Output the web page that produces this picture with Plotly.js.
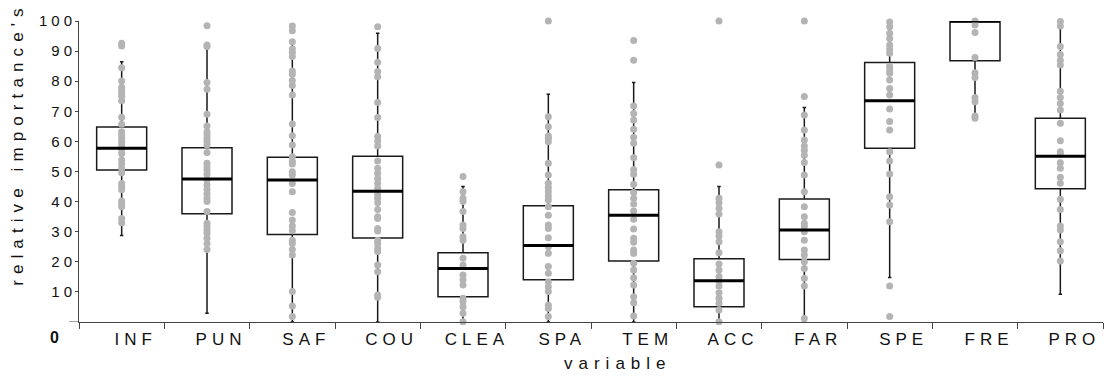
<!DOCTYPE html>
<html>
<head>
<meta charset="utf-8">
<script src="https://cdn.plot.ly/plotly-3.0.1.min.js"></script>
<style>
  html, body { margin: 0; padding: 0; background: #fff; }
  #chart { width: 1107px; height: 378px; }
  .xtick text { letter-spacing: 5px; }
  .ytick text { letter-spacing: 4px; }
  .annotation-text { letter-spacing: 6px; }
  .annotation[data-index="0"] .annotation-text { letter-spacing: 6.1px; }
</style>
</head>
<body>
<div id="chart"></div>
<script>
const categories = ['INF', 'PUN', 'SAF', 'COU', 'CLEA', 'SPA', 'TEM', 'ACC', 'FAR', 'SPE', 'FRE', 'PRO'];

const q1Values     = [50.5, 36.0, 29.1, 27.9,  8.4, 14.0, 20.3,  5.1, 20.8, 57.7,  86.8, 44.3];
const medianValues = [57.7, 47.5, 47.2, 43.4, 17.8, 25.4, 35.5, 13.7, 30.6, 73.5, 100.0, 55.1];
const q3Values     = [64.8, 57.9, 54.7, 55.1, 23.0, 38.6, 43.9, 21.0, 40.9, 86.2, 100.0, 67.7];
const lowerWhisker = [28.7,  2.9,  0.0,  0.0,  0.0,  0.0,  0.0,  0.0,  0.0, 14.8,  67.3,  9.2];
const upperWhisker = [86.5, 90.9, 93.0, 95.9, 45.0, 75.7, 79.6, 45.0, 71.3, 100.0, 100.0, 100.0];

const ptsINF  = [92.6, 91.7, 84.5, 80.1, 78, 77, 76, 75, 73.5, 68, 65.7, 63.2, 62.1, 61, 59.9, 58.8, 57.5, 56, 53.8, 52.5, 51, 49.6, 46, 45, 43.9, 40.2, 39.2, 38.3, 34.4, 33];
const ptsPUN  = [98.4, 92, 91.5, 79.6, 77.3, 69, 65.1, 63.2, 62.1, 61, 59.9, 58.8, 56.3, 52.7, 51.6, 50.5, 49.1, 47.2, 45.5, 43.9, 42.5, 41.1, 40, 36.7, 32.8, 31.7, 30.6, 29.5, 27.8, 26.1, 24.1];
const ptsSAF  = [98.3, 96.8, 93.1, 90.7, 89.5, 88.2, 83.4, 82.3, 80.2, 78.6, 75.4, 65.8, 61.9, 58.8, 54.9, 53.3, 52.5, 49.9, 48.8, 46, 43.3, 36.4, 33.9, 31.9, 30.3, 27.2, 26.1, 24.1, 22.3, 10.1, 5.3, 1.8];
const ptsCOU  = [98.1, 90.9, 86.3, 83.2, 81.5, 72.9, 67.9, 61.6, 60.1, 58.5, 53.5, 51.1, 49.4, 47.7, 46.1, 44.4, 42.2, 41.1, 39.6, 37.4, 35, 34.4, 31.1, 30.2, 27.2, 26.1, 24.5, 23.4, 18.9, 16.7, 9, 8.2];
const ptsCLEA = [48.3, 43.3, 41.1, 40, 36.7, 32.2, 31.1, 28.3, 27.2, 21.2, 18.9, 15.6, 14, 12.3, 7.9, 6.8, 5.1, 2.9, 0.1];
const ptsSPA  = [100, 68.2, 64.9, 61.8, 61, 59.9, 52.7, 48.8, 46.1, 44.7, 43.3, 41.9, 40.5, 38.3, 35.5, 32.2, 31.1, 28, 25, 22.8, 18.4, 16.2, 13.4, 11.7, 10.1, 5.6, 4.5, 1.8];
const ptsTEM  = [93.5, 87, 71.8, 69.3, 67.1, 64, 61.4, 59.4, 54.6, 50.7, 49.1, 45.8, 43, 41.1, 39.2, 36.9, 34.1, 30.9, 27.8, 26.5, 23.9, 22.8, 19.5, 17.3, 14.7, 12.3, 8.4, 6.4, 2];
const ptsACC  = [100, 52.2, 41.1, 39.6, 37.8, 35.9, 30, 28.6, 26.7, 23, 19.3, 17.3, 15.1, 13.7, 12, 9.7, 7.9, 6.2, 4, 0.1];
const ptsFAR  = [100, 74.9, 68.8, 63.8, 60.5, 58.5, 57.1, 55.4, 53, 48.8, 43.3, 38.3, 35, 32.8, 31.7, 30, 27.2, 23.9, 22.3, 20, 17.8, 14.5, 12, 1.2];
const ptsSPE  = [99.7, 98.1, 95.9, 94.2, 92, 90.6, 89.3, 85, 83.7, 82.6, 80.4, 77.6, 75.4, 70.8, 66.6, 63.8, 56.6, 53.5, 49.2, 41.6, 38.9, 33.3, 12, 1.8];
const ptsFRE  = [100, 98.7, 96.2, 87.9, 82.8, 81.2, 74.6, 73.2, 68.4, 67.7];
const ptsPRO  = [99.8, 98.3, 91.5, 88.9, 87, 85.4, 76.7, 74.6, 72.6, 70.4, 66, 60.2, 56.6, 55.8, 52.9, 51.1, 48.1, 46.1, 40.8, 37.4, 31.9, 30.6, 26.7, 23.7, 20.3];

const yTickValues = [10, 20, 30, 40, 50, 60, 70, 80, 90, 100];

const pointSets = [ptsINF, ptsPUN, ptsSAF, ptsCOU, ptsCLEA, ptsSPA, ptsTEM, ptsACC, ptsFAR, ptsSPE, ptsFRE, ptsPRO];

const FONT = 'Liberation Sans, Arial, sans-serif';
const BOXW = 0.586;

const boxTrace = {
  type: 'box',
  x: categories,
  q1: q1Values,
  median: medianValues,
  q3: q3Values,
  lowerfence: lowerWhisker,
  upperfence: upperWhisker,
  boxpoints: false,
  width: BOXW,
  whiskerwidth: 0.07,
  fillcolor: 'rgba(0,0,0,0)',
  line: { color: '#1a1a1a', width: 1.5 },
  hoverinfo: 'skip',
  showlegend: false
};

const ptX = [], ptY = [];
pointSets.forEach((arr, i) => arr.forEach(v => { ptX.push(categories[i]); ptY.push(v); }));

const pointTrace = {
  type: 'scatter',
  mode: 'markers',
  x: ptX,
  y: ptY,
  marker: { color: '#b4b4b4', size: 7 },
  cliponaxis: false,
  hoverinfo: 'skip',
  showlegend: false
};

const medX = [], medY = [];
medianValues.forEach((m, i) => { medX.push(i - BOXW / 2, i + BOXW / 2, null); medY.push(m, m, null); });

const medianTrace = {
  type: 'scatter',
  mode: 'lines',
  x: medX,
  y: medY,
  xaxis: 'x2',
  line: { color: '#000', width: 3 },
  cliponaxis: false,
  hoverinfo: 'skip',
  showlegend: false
};

const layout = {
  width: 1107,
  height: 378,
  margin: { l: 79, r: 4, t: 21, b: 56 },
  paper_bgcolor: '#fff',
  plot_bgcolor: '#fff',
  showlegend: false,
  font: { family: FONT, color: '#111' },
  xaxis: {
    type: 'category',
    range: [-0.5, 11.5],
    tickson: 'boundaries',
    ticks: 'outside',
    ticklen: 6,
    tickcolor: '#444',
    tickwidth: 1,
    showline: true,
    linecolor: '#444',
    linewidth: 1,
    showgrid: false,
    zeroline: false,
    tickfont: { family: FONT, size: 17, color: '#111' },
    ticklabelstandoff: 2,
    ticklabelshift: 14
  },
  xaxis2: {
    overlaying: 'x',
    range: [-0.5, 11.5],
    visible: false
  },
  yaxis: {
    range: [0, 100],
    tickvals: yTickValues,
    ticks: 'outside',
    ticklen: 3,
    tickcolor: '#444',
    showline: true,
    linecolor: '#444',
    linewidth: 1,
    showgrid: false,
    zeroline: false,
    tickfont: { family: FONT, size: 15, color: '#111' },
    ticklabelstandoff: -4
  },
  shapes: [
    { type: 'line', xref: 'paper', yref: 'y', x0: -10 / 1024, x1: 0, y0: 0, y1: 0,
      line: { color: '#444', width: 1 } }
  ],
  annotations: [
    { text: "relative importance's", xref: 'paper', yref: 'paper', x: -0.0596, y: 0.592,
      xanchor: 'center', yanchor: 'middle', textangle: -90, showarrow: false,
      font: { family: FONT, size: 17, color: '#111' } },
    { text: 'variable', xref: 'paper', yref: 'paper', x: 0.5265, y: -0.1395,
      xanchor: 'center', yanchor: 'middle', showarrow: false,
      font: { family: FONT, size: 17, color: '#111' } },
    { text: '0', xref: 'paper', yref: 'paper', x: -0.021, y: -0.0515,
      xanchor: 'center', yanchor: 'middle', showarrow: false,
      font: { family: FONT, size: 16, color: '#111', weight: 'bold' } }
  ]
};

Plotly.newPlot('chart', [boxTrace, pointTrace, medianTrace], layout, { displayModeBar: false, staticPlot: true });
</script>
</body>
</html>
